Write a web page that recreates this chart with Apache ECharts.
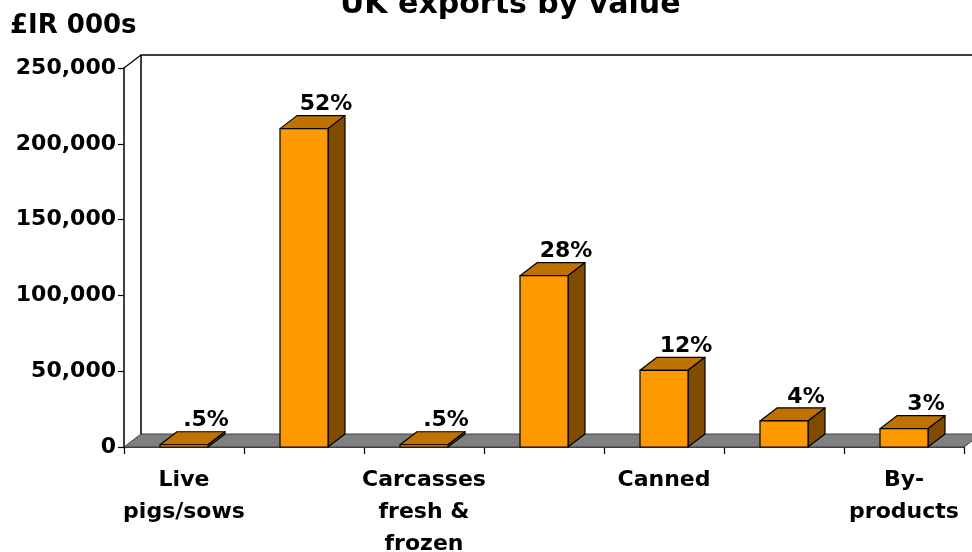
<!DOCTYPE html>
<html>
<head>
<meta charset="utf-8">
<script src="https://cdn.jsdelivr.net/npm/echarts@6/dist/echarts.min.js"></script>
<style>
  html, body { margin: 0; padding: 0; background: #fff; }
  #chart { width: 972px; height: 552px; }
</style>
</head>
<body>
<div id="chart"></div>
<script>
// UK exports by value, £IR 000s
var categories = ["Live\npigs/sows", "Bacon", "Carcasses\nfresh &\nfrozen", "Pigmeat cuts", "Canned", "Offals", "By-\nproducts"];
var values = [1500, 210000, 1500, 113000, 50600, 17200, 12100];
var shareLabels = [".5%", "52%", ".5%", "28%", "12%", "4%", "3%"];
var yTicks = [0, 50000, 100000, 150000, 200000, 250000];

var FONT = "DejaVu Sans";
var DX = 17, DY = 13; // depth offset for the 3d look

var chart = echarts.init(document.getElementById("chart"));

// floor + back wall
function renderFrame(params, api) {
  var band = api.size([1, 0])[0];
  var p0 = api.coord([0, 0]);
  var pN = api.coord([categories.length - 1, 0]);
  var top = api.coord([0, yTicks[yTicks.length - 1]])[1];
  var left = p0[0] - band / 2, right = pN[0] + band / 2, base = p0[1];
  return {
    type: "group",
    children: [
      {
        type: "polygon",
        shape: { points: [[left, base], [right, base], [right + DX, base - DY], [left + DX, base - DY]] },
        style: { fill: "#808080", stroke: "#404040", lineWidth: 1 }
      },
      {
        type: "polyline",
        shape: { points: [[left + DX, base - DY], [left + DX, top - DY], [right + DX + 40, top - DY]] },
        style: { fill: null, stroke: "#000", lineWidth: 1.5 }
      },
      {
        type: "line",
        shape: { x1: left, y1: top, x2: left + DX, y2: top - DY },
        style: { stroke: "#000", lineWidth: 1.2 }
      }
    ]
  };
}

function renderBar(params, api) {
  var i = api.value(0), v = api.value(1);
  var pt = api.coord([i, v]), pb = api.coord([i, 0]);
  var w = api.size([1, 0])[0] * 0.4;
  var x0 = pt[0] - w / 2, x1 = pt[0] + w / 2, yt = pt[1], yb = pb[1];
  var line = { stroke: "#000", lineWidth: 1.2, lineJoin: "round" };
  return {
    type: "group",
    children: [
      {
        type: "polygon",
        shape: { points: [[x0, yt], [x1, yt], [x1 + DX, yt - DY], [x0 + DX, yt - DY]] },
        style: Object.assign({ fill: "#C07200" }, line)
      },
      {
        type: "polygon",
        shape: { points: [[x1, yt], [x1 + DX, yt - DY], [x1 + DX, yb - DY], [x1, yb]] },
        style: Object.assign({ fill: "#7F4C00" }, line)
      },
      {
        type: "polygon",
        shape: { points: [[x0, yt], [x1, yt], [x1, yb], [x0, yb]] },
        style: Object.assign({ fill: "#FF9900" }, line)
      },
      {
        type: "text",
        style: {
          text: shareLabels[params.dataIndex],
          x: pt[0] + 22,
          y: yt - DY,
          align: "center",
          verticalAlign: "bottom",
          fill: "#000",
          fontFamily: FONT,
          fontWeight: "bold",
          fontSize: 22
        }
      }
    ]
  };
}

chart.setOption({
  animation: false,
  backgroundColor: "#fff",
  title: [
    {
      text: "UK exports by value",
      left: 340,
      top: -10,
      padding: 0,
      textStyle: { fontFamily: FONT, fontWeight: "bold", fontSize: 30, color: "#000" }
    },
    {
      text: "£IR 000s",
      left: 10,
      top: 13,
      padding: 0,
      textStyle: { fontFamily: FONT, fontWeight: "bold", fontSize: 26, color: "#000" }
    }
  ],
  grid: { left: 124, right: 8, top: 68, bottom: 105, containLabel: false, outerBoundsMode: "none" },
  xAxis: {
    type: "category",
    data: categories,
    boundaryGap: true,
    axisLine: { show: true, lineStyle: { color: "#000", width: 1.5 } },
    axisTick: { show: true, interval: 0, length: 7, lineStyle: { color: "#000", width: 1.2 } },
    axisLabel: {
      interval: 1,
      color: "#000",
      fontFamily: FONT,
      fontWeight: "bold",
      fontSize: 22,
      lineHeight: 32,
      margin: 17
    },
    splitLine: { show: false }
  },
  yAxis: {
    type: "value",
    min: 0,
    max: 250000,
    interval: 50000,
    axisLine: { show: true, lineStyle: { color: "#000", width: 1.5 } },
    axisTick: { show: true, length: 6, lineStyle: { color: "#000", width: 1.2 } },
    axisLabel: {
      color: "#000",
      fontFamily: FONT,
      fontWeight: "bold",
      fontSize: 22,
      margin: 8,
      formatter: function (val) { return val.toLocaleString("en-US"); }
    },
    splitLine: { show: false }
  },
  series: [
    {
      type: "custom",
      silent: true,
      z: 1,
      renderItem: renderFrame,
      data: [[0, 0]],
      encode: { x: 0, y: 1 }
    },
    {
      type: "custom",
      z: 2,
      renderItem: renderBar,
      data: values.map(function (v, i) { return [i, v]; }),
      encode: { x: 0, y: 1 }
    }
  ]
});
</script>
</body>
</html>
